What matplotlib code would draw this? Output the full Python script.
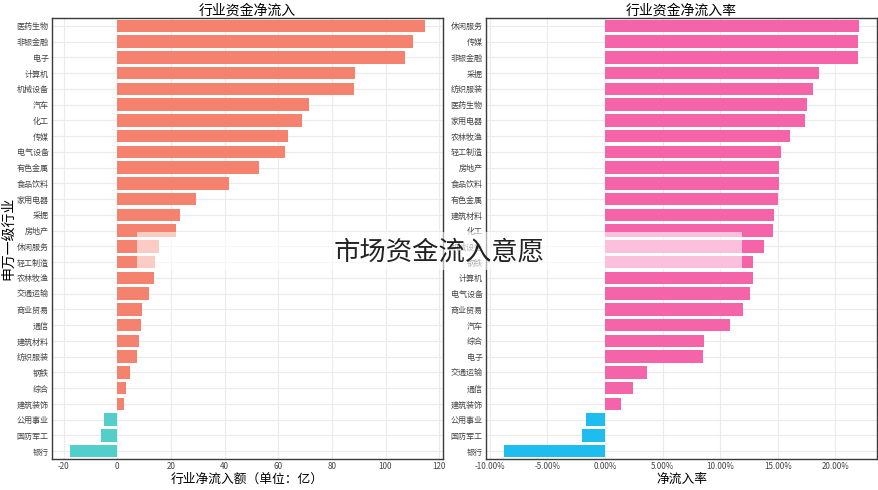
import matplotlib
matplotlib.use('Agg')
import matplotlib.pyplot as plt
from matplotlib.patches import Rectangle
from matplotlib.ticker import FuncFormatter

plt.rcParams['font.family'] = ['Noto Sans CJK SC', 'DejaVu Sans']
plt.rcParams['axes.unicode_minus'] = False

# 行业资金净流入 (亿)
INFLOW_NAMES = ['医药生物', '非银金融', '电子', '计算机', '机械设备', '汽车', '化工', '传媒',
                '电气设备', '有色金属', '食品饮料', '家用电器', '采掘', '房地产', '休闲服务',
                '轻工制造', '农林牧渔', '交通运输', '商业贸易', '通信', '建筑材料', '纺织服装',
                '钢铁', '综合', '建筑装饰', '公用事业', '国防军工', '银行']
INFLOW_VALUES = [114.8, 110.1, 107.4, 88.6, 88.3, 71.5, 68.8, 63.5,
                 62.4, 52.7, 41.8, 29.2, 23.5, 21.7, 15.5,
                 14.2, 13.8, 11.9, 9.3, 8.9, 8.1, 7.2,
                 4.7, 3.3, 2.5, -5.0, -6.1, -17.7]

# 行业资金净流入率 (%)
RATE_NAMES = ['休闲服务', '传媒', '非银金融', '采掘', '纺织服装', '医药生物', '家用电器', '农林牧渔',
              '轻工制造', '房地产', '食品饮料', '有色金属', '建筑材料', '化工', '机械设备', '钢铁',
              '计算机', '电气设备', '商业贸易', '汽车', '综合', '电子', '交通运输', '通信',
              '建筑装饰', '公用事业', '国防军工', '银行']
RATE_VALUES = [22.08, 22.0, 21.94, 18.6, 18.1, 17.57, 17.4, 16.05,
               15.3, 15.15, 15.15, 15.04, 14.66, 14.58, 13.8, 12.88,
               12.85, 12.6, 12.0, 10.87, 8.6, 8.54, 3.68, 2.43,
               1.38, -1.62, -2.03, -8.78]

LEFT_POS = '#F4826E'
LEFT_NEG = '#52CFCB'
RIGHT_POS = '#F564A9'
RIGHT_NEG = '#1DBDF0'
SPINE = '#3a3a3a'
TICK_COLOR = '#444444'


def draw_bars(ax, names, values, pos_color, neg_color):
    ypos = list(range(len(names)))
    colors = [pos_color if v >= 0 else neg_color for v in values]
    ax.barh(ypos, values, height=0.8, color=colors, zorder=2)
    ax.set_yticks(ypos)
    ax.set_yticklabels(names)
    ax.set_ylim(len(names) - 0.5, -0.5)
    ax.grid(True, color='#ebebeb', linewidth=0.8, zorder=0)
    ax.set_axisbelow(True)
    for s in ax.spines.values():
        s.set_color(SPINE)
        s.set_linewidth(1.0)
    ax.tick_params(axis='both', length=0, labelsize=5.8, colors=TICK_COLOR, pad=2.5)


fig = plt.figure(figsize=(8.79, 4.90), dpi=100)
ax1 = fig.add_axes([0.0592, 0.0633, 0.4448, 0.9000])
ax2 = fig.add_axes([0.5530, 0.0633, 0.4448, 0.9000])

draw_bars(ax1, INFLOW_NAMES, INFLOW_VALUES, LEFT_POS, LEFT_NEG)
ax1.set_xticks([-20, 0, 20, 40, 60, 80, 100, 120])
ax1.set_title('行业资金净流入', fontsize=10, pad=2)
ax1.set_xlabel('行业净流入额（单位：亿）', fontsize=9.2, labelpad=1)
ax1.set_ylabel('申万一级行业', fontsize=10)
ax1.yaxis.set_label_coords(-0.094, 0.5)

draw_bars(ax2, RATE_NAMES, RATE_VALUES, RIGHT_POS, RIGHT_NEG)
ax2.set_xticks([-10, -5, 0, 5, 10, 15, 20])
ax2.xaxis.set_major_formatter(FuncFormatter(lambda v, p: '%.2f%%' % v))
ax2.set_title('行业资金净流入率', fontsize=10, pad=2)
ax2.set_xlabel('净流入率', fontsize=9.2, labelpad=1)

# 半透明遮罩 + 水印标题
fig.add_artist(Rectangle((0.1559, 0.449), 0.6883, 0.0776, transform=fig.transFigure,
                         facecolor='white', edgecolor='none', alpha=0.6, zorder=5))
fig.text(0.5, 0.486, '市场资金流入意愿', ha='center', va='center', fontsize=19,
         color='#222222', fontweight='light', zorder=6)

fig.savefig('out.png', dpi=100)
